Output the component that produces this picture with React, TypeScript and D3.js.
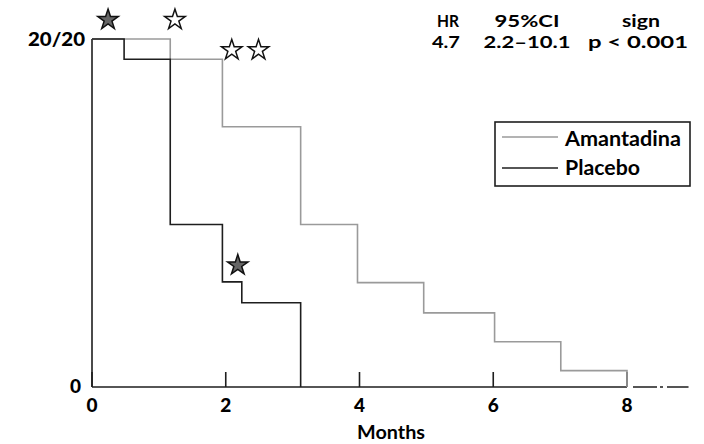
import * as d3 from "d3";

// Kaplan-Meier step data (months, survival fraction)
const amantadineTimes = [0, 1.17, 1.95, 3.12, 3.97, 4.96, 6.02, 7.01, 8.0];
const amantadineSurv = [1, 0.942, 0.748, 0.467, 0.3, 0.213, 0.13, 0.047, 0];
const placeboTimes = [0, 0.48, 1.17, 1.95, 2.24, 3.12];
const placeboSurv = [1, 0.942, 0.467, 0.302, 0.242, 0];

// star markers: time, level, filled (placebo) or open (amantadine)
const starTimes = [0.24, 1.24, 2.09, 2.49, 2.18];
const starLevels = [1.055, 1.055, 0.968, 0.968, 0.35];
const starFilled = [true, false, false, false, true];

const xTicks = [0, 2, 4, 6, 8];
const yTickLabels = ["0", "20/20"];
const yTickValues = [0, 1];

const headerCols = ["HR", "95%CI", "sign"];
const headerVals = ["4.7", "2.2–10.1", "p < 0.001"];
const seriesNames = ["Amantadina", "Placebo"];

const width = 704;
const height = 444;
const FONT = "Lato, 'DejaVu Sans', sans-serif";
const DARK = "#1e1e1e";
const GRAY = "#9a9a9a";

const App = () => {
  const x = d3.scaleLinear().domain([0, 8]).range([92, 627]);
  const y = d3.scaleLinear().domain([0, 1]).range([387, 39]);

  const line = d3
    .line<[number, number]>()
    .x((d) => x(d[0]))
    .y((d) => y(d[1]))
    .curve(d3.curveStepAfter);

  const amaPts = amantadineTimes.map((t, i) => [t, amantadineSurv[i]] as [number, number]);
  const plaPts = placeboTimes.map((t, i) => [t, placeboSurv[i]] as [number, number]);

  const star = d3.symbol().type(d3.symbolStar).size(130);

  return (
    <div style={{ position: "absolute", left: 0, top: 0 }}>
      <svg width={width} height={height} style={{ display: "block", background: "#fff" }}>
        {/* y axis */}
        <line x1={x(0)} x2={x(0)} y1={y(1)} y2={y(0)} stroke={DARK} strokeWidth={1.6} />
        {/* x axis */}
        <line x1={x(0)} x2={x(8)} y1={y(0)} y2={y(0)} stroke={DARK} strokeWidth={1.6} />
        <line
          x1={x(8)}
          x2={x(8.92)}
          y1={y(0)}
          y2={y(0)}
          stroke={DARK}
          strokeWidth={1.6}
          strokeDasharray="0,6,24,3,3,4,22,100"
        />
        {xTicks.map((t) => (
          <g key={t}>
            <line x1={x(t)} x2={x(t)} y1={y(0)} y2={y(0) - 15} stroke={DARK} strokeWidth={1.6} />
            <text
              x={x(t)}
              y={412}
              textAnchor="middle"
              fontFamily={FONT}
              fontWeight={900}
              fontSize={19}
              fill="#000"
            >
              {t}
            </text>
          </g>
        ))}
        {yTickValues.map((v, i) => (
          <text
            key={v}
            x={v === 0 ? 81 : 85}
            y={y(v) + (v === 0 ? 6 : 7)}
            textAnchor="end"
            fontFamily={FONT}
            fontWeight={900}
            fontSize={v === 0 ? 19 : 18}
            textLength={v === 0 ? undefined : 57}
            lengthAdjust="spacingAndGlyphs"
            fill="#000"
          >
            {yTickLabels[i]}
          </text>
        ))}
        <text
          x={391}
          y={439}
          textAnchor="middle"
          fontFamily={FONT}
          fontWeight={700}
          fontSize={19}
          textLength={68}
          lengthAdjust="spacingAndGlyphs"
        >
          Months
        </text>

        {/* curves */}
        <path d={line(amaPts) ?? ""} fill="none" stroke={GRAY} strokeWidth={1.6} />
        <path d={line(plaPts) ?? ""} fill="none" stroke={DARK} strokeWidth={1.6} />

        {/* stars */}
        {starTimes.map((t, i) => (
          <path
            key={i}
            d={star() ?? ""}
            transform={`translate(${x(t)},${y(starLevels[i])})`}
            fill={starFilled[i] ? "#666" : "#fff"}
            stroke="#111"
            strokeWidth={1.5}
            strokeLinejoin="miter"
          />
        ))}

        {/* header stats */}
        {headerCols.map((h, i) => (
          <text
            key={h}
            x={[448, 527, 641][i]}
            y={27}
            textAnchor="middle"
            fontFamily={FONT}
            fontWeight={700}
            fontSize={17}
            textLength={[22, 65, 38][i]}
            lengthAdjust="spacingAndGlyphs"
          >
            {h}
          </text>
        ))}
        {headerVals.map((h, i) => (
          <text
            key={h}
            x={[446, 527, 638][i]}
            y={48}
            textAnchor="middle"
            fontFamily={FONT}
            fontWeight={700}
            fontSize={17}
            textLength={[28, 87, 100][i]}
            lengthAdjust="spacingAndGlyphs"
          >
            {h}
          </text>
        ))}

        {/* legend */}
        <rect x={495} y={122} width={195} height={64} fill="#fff" stroke={DARK} strokeWidth={1.6} />
        {seriesNames.map((n, i) => (
          <g key={n}>
            <line
              x1={502}
              x2={558}
              y1={137 + i * 31}
              y2={137 + i * 31}
              stroke={i === 0 ? GRAY : DARK}
              strokeWidth={1.6}
            />
            <text
              x={565}
              y={146 + i * 29}
              fontFamily={FONT}
              fontWeight={700}
              fontSize={20}
              textLength={i === 0 ? 116 : 75}
              lengthAdjust="spacingAndGlyphs"
            >
              {n}
            </text>
          </g>
        ))}
      </svg>
    </div>
  );
};

export default App;
